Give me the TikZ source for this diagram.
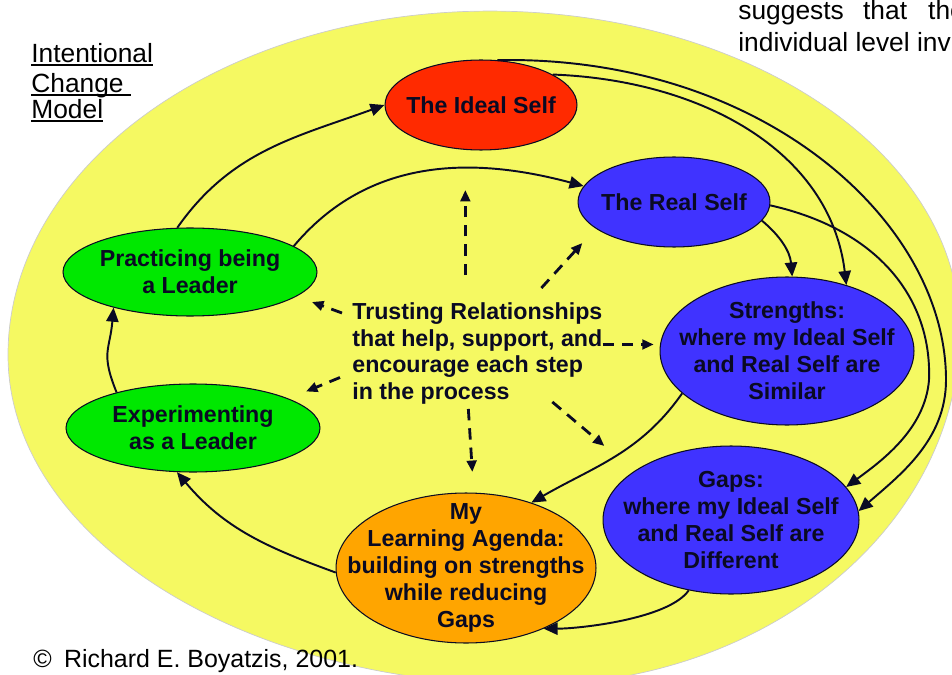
\documentclass[tikz,border=0pt]{standalone}
\usepackage{fontspec}
\setmainfont{Liberation Sans}
\usepackage{tikz}
\usetikzlibrary{arrows.meta,positioning,shapes.geometric}
\definecolor{FieldYellow}{HTML}{F5F962}
\definecolor{IdealRed}{HTML}{FF2A00}
\definecolor{RealBlue}{HTML}{4033FF}
\definecolor{LeaderGreen}{HTML}{00E800}
\definecolor{AgendaOrange}{HTML}{FFA500}
\definecolor{InkDark}{HTML}{0A0A23}
% underline kept close to the baseline, as in a slide
\newcommand{\lineunder}[1]{\setbox0\hbox{#1}\rlap{\rule[-2pt]{\wd0}{1pt}}\box0}
\tikzset{
  stage/.style={ellipse,draw=InkDark,line width=0.6pt,inner sep=0pt},
  stagetext/.style={font=\fontsize{13.2}{15.3}\selectfont\bfseries,align=center,text=InkDark,inner sep=0pt},
  cyclearrow/.style={-{Triangle[length=8pt,width=7pt]},line width=1.1pt,draw=InkDark},
  trustarrow/.style={-{Triangle[length=6.5pt,width=5.5pt]},line width=1.6pt,draw=InkDark,dash pattern=on 6.5pt off 4.5pt},
  plainnote/.style={font=\fontsize{15}{17}\selectfont,inner sep=0pt,text=black}
}

\begin{document}
\begin{tikzpicture}[x=0.02cm,y=-0.02cm]
\useasboundingbox (0,0) rectangle (952,675);
% the yellow field behind the cycle, four quarter arcs
\draw[fill=FieldYellow,draw=gray!40,line width=0.4pt] (8,355)
  arc[start angle=180,end angle=90,x radius=9.64cm,y radius=6.88cm]
  arc[start angle=90,end angle=0,x radius=9.4cm,y radius=6.38cm]
  arc[start angle=0,end angle=-90,x radius=8.6cm,y radius=7.1cm]
  arc[start angle=-90,end angle=-180,x radius=10.44cm,y radius=6.6cm] -- cycle;

% stages of the cycle
\node[stage,fill=IdealRed,minimum width=3.84cm,minimum height=1.8cm] (ideal) at (481,105) {};
\node[stage,fill=RealBlue,minimum width=3.84cm,minimum height=1.8cm] (real) at (674,202) {};
\node[stage,fill=RealBlue,minimum width=5.08cm,minimum height=2.96cm] (strengths) at (787,351) {};
\node[stage,fill=RealBlue,minimum width=5.12cm,minimum height=2.96cm] (gaps) at (731,520) {};
\node[stage,fill=AgendaOrange,minimum width=5.2cm,minimum height=3.0cm] (agenda) at (466,568) {};
\node[stage,fill=LeaderGreen,minimum width=5.08cm,minimum height=1.76cm] (exper) at (193,428) {};
\node[stage,fill=LeaderGreen,minimum width=5.08cm,minimum height=1.76cm] (prac) at (190,272) {};

\node[stagetext] (idealtxt) at (ideal) {The Ideal Self};
\node[stagetext] (realtxt) at (real) {The Real Self};
\node[stagetext] (strengthstxt) at (strengths) {Strengths:\\where my Ideal Self\\and Real Self are\\Similar};
\node[stagetext] (gapstxt) at (gaps) {Gaps:\\where my Ideal Self\\and Real Self are\\Different};
\node[stagetext] (agendatxt) at (agenda) {My\\Learning Agenda:\\building on strengths\\while reducing\\Gaps};
\node[stagetext] (expertxt) at (exper) {Experimenting\\as a Leader};
\node[stagetext] (practxt) at (prac) {Practicing being\\a Leader};

% relationships in the middle
\node[stagetext,align=left,anchor=north west] (trust) at (352,302) {Trusting Relationships\\that help, support, and\\encourage each step\\in the process};

% side texts
\node[plainnote,align=left,anchor=north west] (title) at (31,43) {\lineunder{Intentional}\\\lineunder{Change\ }\\[-2.3pt]\lineunder{Model}};
\node[plainnote,font=\fontsize{14.2}{17}\selectfont,anchor=base west] (copy) at (33,667) {©\hskip 7pt Richard E. Boyatzis, 2001.};
\node[plainnote,anchor=base west] (sugg) at (738,20) {suggests\hskip 11pt that\hskip 12pt the};
\node[plainnote,anchor=base west] (indiv) at (738,52) {individual level inv};

% the cycle
\draw[cyclearrow] (prac.106) to[out=55,in=200] (ideal.180);
\draw[cyclearrow] (prac.14) to[out=50,in=165] (real.170);
\draw[cyclearrow] (ideal.70) .. controls (760,55) and (946,220) .. (946,380)
  .. controls (946,440) and (900,475) .. (gaps.4);
\draw[cyclearrow] (real.-2) .. controls (880,230) and (932,300) .. (929,380)
  .. controls (925,430) and (880,462) .. (gaps.16);
\draw[cyclearrow] (ideal.23) .. controls (700,80) and (830,150) .. (strengths.48);
\draw[cyclearrow] (real.-12) to[out=-40,in=95] (strengths.86);
\draw[cyclearrow] (strengths.202) to[out=235,in=30] (agenda.45);
\draw[cyclearrow] (gaps.239) to[out=235,in=0,looseness=0.6] (agenda.-38);
\draw[cyclearrow] (agenda.182) to[out=160,in=-50] (exper.250);
\draw[cyclearrow] (exper.155) to[out=112,in=-95,looseness=1.3] (prac.205);

% support reaching every step
\draw[trustarrow] (trust.north) ++(-12,-27) -- ++(0,-85);
\draw[trustarrow] (trust.north) ++(64,-14) -- ++(41,-45);
\draw[trustarrow] (trust.north west) ++(-10,11) -- ++(-30,-11);
\draw[trustarrow] (trust.east) ++(0,-9) -- ++(51,0);
\draw[trustarrow] (trust.west) ++(-12,24) -- ++(-34,14);
\draw[trustarrow] (trust.south) ++(-9,4) -- ++(4,63);
\draw[trustarrow] (trust.south) ++(75,-3) -- ++(52,44);
\end{tikzpicture}
\end{document}
